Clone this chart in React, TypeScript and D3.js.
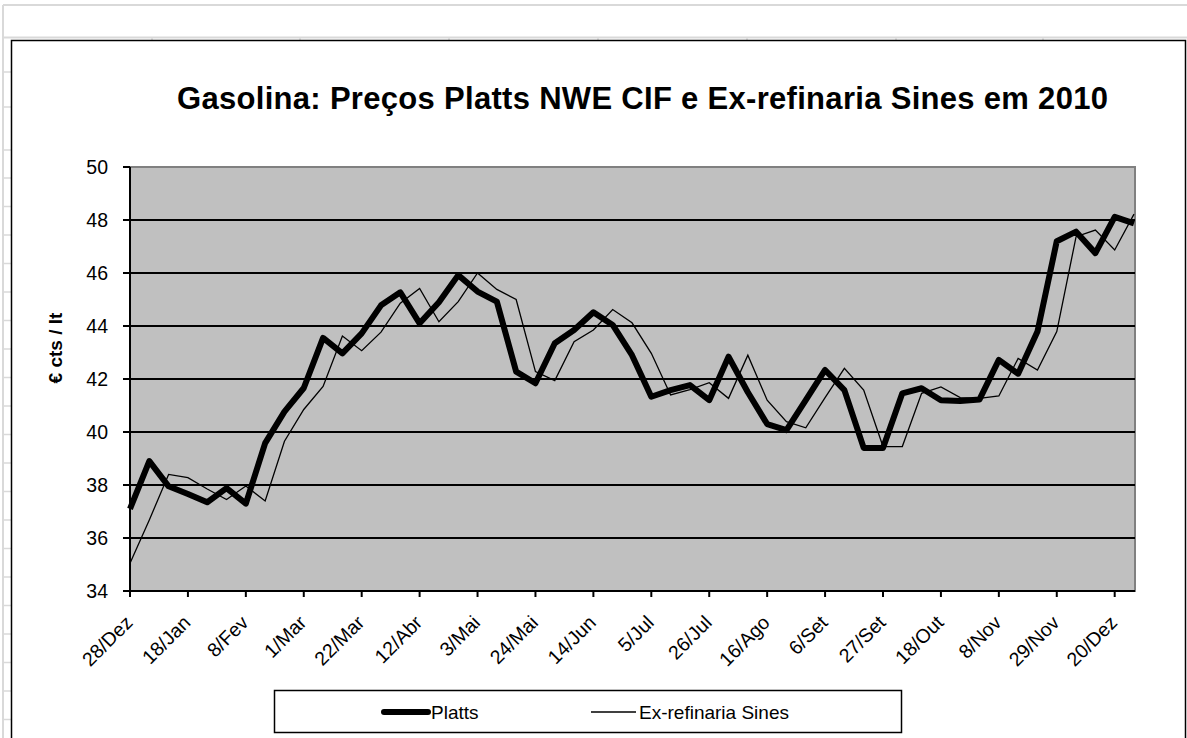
import React from "react";
import * as d3 from "d3";

const categories = [
  "28/Dez", "4/Jan", "11/Jan", "18/Jan", "25/Jan", "1/Fev", "8/Fev", "15/Fev", "22/Fev",
  "1/Mar", "8/Mar", "15/Mar", "22/Mar", "29/Mar", "5/Abr", "12/Abr", "19/Abr", "26/Abr",
  "3/Mai", "10/Mai", "17/Mai", "24/Mai", "31/Mai", "7/Jun", "14/Jun", "21/Jun", "28/Jun",
  "5/Jul", "12/Jul", "19/Jul", "26/Jul", "2/Ago", "9/Ago", "16/Ago", "23/Ago", "30/Ago",
  "6/Set", "13/Set", "20/Set", "27/Set", "4/Out", "11/Out", "18/Out", "25/Out", "1/Nov",
  "8/Nov", "15/Nov", "22/Nov", "29/Nov", "6/Dez", "13/Dez", "20/Dez", "27/Dez",
];

const platts = [
  37.1, 38.9, 37.95, 37.66, 37.35, 37.88, 37.3, 39.58, 40.77, 41.66, 43.55, 42.97, 43.72,
  44.78, 45.27, 44.1, 44.9, 45.92, 45.3, 44.92, 42.28, 41.84, 43.35, 43.85, 44.52, 44.04,
  42.9, 41.33, 41.58, 41.77, 41.2, 42.84, 41.5, 40.3, 40.07, 41.2, 42.34, 41.58, 39.4,
  39.4, 41.46, 41.65, 41.2, 41.17, 41.23, 42.72, 42.2, 43.79, 47.2, 47.56, 46.75, 48.12,
  47.87,
];

const exRefinaria = [
  35.05, 36.68, 38.4, 38.28, 37.85, 37.45, 37.96, 37.4, 39.65, 40.85, 41.72, 43.62, 43.07,
  43.77, 44.86, 45.42, 44.16, 44.92, 46.0, 45.38, 45.0, 42.28, 41.94, 43.41, 43.85, 44.62,
  44.12, 42.97, 41.4, 41.6, 41.86, 41.27, 42.9, 41.2, 40.39, 40.16, 41.3, 42.4, 41.58,
  39.45, 39.45, 41.46, 41.7, 41.3, 41.27, 41.36, 42.78, 42.34, 43.79, 47.37, 47.62, 46.87,
  48.22,
];

const yTicks = [34, 36, 38, 40, 42, 44, 46, 48, 50];
const labelStep = 3;

const title = "Gasolina: Preços Platts NWE CIF e Ex-refinaria Sines em 2010";
const yTitle = "€ cts / lt";
const seriesNames = ["Platts", "Ex-refinaria Sines"];

const W = 1187;
const H = 738;
const FONT = "'Liberation Sans', Arial, sans-serif";

const plot = { left: 130, right: 1135, top: 167, bottom: 591 };

export default function App() {
  const x = d3
    .scalePoint<string>()
    .domain(categories)
    .range([plot.left, plot.right - 1])
    .padding(0);
  const y = d3.scaleLinear().domain([34, 50]).range([plot.bottom, plot.top]);

  const line = d3
    .line<number>()
    .x((_, i) => x(categories[i]) as number)
    .y((d) => y(d));

  const tickCats = categories.filter((_, i) => i % labelStep === 0);

  const rowLines = [72, 107, 150];
  for (let v = 178; v < H; v += 28.5) rowLines.push(v);
  const colLines = [152, 300, 449, 598, 747, 896, 1043];

  return (
    <svg
      width={W}
      height={H}
      style={{ position: "absolute", left: 0, top: 0, background: "#fff" }}
      fontFamily={FONT}
    >
      {/* spreadsheet background */}
      <line x1={3} x2={W} y1={5} y2={5} stroke="#d9d9d9" strokeWidth={2} />
      <line x1={3} x2={3} y1={5} y2={H} stroke="#d9d9d9" strokeWidth={2} />
      <line x1={3} x2={W} y1={37.5} y2={37.5} stroke="#d9d9d9" strokeWidth={2} />
      {rowLines.map((v, i) => (
        <line key={"r" + i} x1={3} x2={11} y1={v} y2={v} stroke="#d9d9d9" strokeWidth={1.5} />
      ))}
      {colLines.map((v, i) => (
        <line key={"c" + i} x1={v} x2={v} y1={37.5} y2={41} stroke="#d9d9d9" strokeWidth={1.5} />
      ))}

      {/* chart border */}
      <rect x={11.5} y={40.5} width={1174} height={H} fill="#fff" stroke="#000" strokeWidth={1.5} />

      {/* title */}
      <text
        x={642.5}
        y={109}
        textAnchor="middle"
        fontSize={31}
        fontWeight="bold"
        textLength={931}
        lengthAdjust="spacing"
      >
        {title}
      </text>

      {/* plot area */}
      <rect
        x={plot.left}
        y={plot.top}
        width={plot.right - plot.left}
        height={plot.bottom - plot.top}
        fill="#c0c0c0"
        stroke="#808080"
        strokeWidth={2}
      />
      {yTicks
        .filter((t) => t !== 34 && t !== 50)
        .map((t) => (
          <line
            key={"g" + t}
            x1={plot.left}
            x2={plot.right}
            y1={y(t)}
            y2={y(t)}
            stroke="#000"
            strokeWidth={2}
          />
        ))}

      {/* y axis */}
      <line x1={plot.left} x2={plot.left} y1={plot.top} y2={plot.bottom} stroke="#000" strokeWidth={2} />
      {yTicks.map((t) => (
        <g key={"yt" + t}>
          <line x1={plot.left - 7} x2={plot.left} y1={y(t)} y2={y(t)} stroke="#000" strokeWidth={2} />
          <text x={108} y={y(t)} dy="0.35em" textAnchor="end" fontSize={19.5}>
            {t}
          </text>
        </g>
      ))}
      <text
        transform={`translate(62,348) rotate(-90)`}
        textAnchor="middle"
        fontSize={19}
        fontWeight="bold"
      >
        {yTitle}
      </text>

      {/* x axis */}
      <line x1={plot.left} x2={plot.right} y1={plot.bottom} y2={plot.bottom} stroke="#000" strokeWidth={2} />
      {tickCats.map((c) => {
        const px = x(c) as number;
        return (
          <g key={"xt" + c}>
            <line x1={px} x2={px} y1={plot.bottom} y2={plot.bottom + 6} stroke="#000" strokeWidth={2} />
            <text
              transform={`translate(${px - 1},${plot.bottom + 28}) rotate(-45)`}
              textAnchor="end"
              dy="0.35em"
              fontSize={19.5}
            >
              {c}
            </text>
          </g>
        );
      })}

      {/* series */}
      <path
        d={line(exRefinaria) || ""}
        fill="none"
        stroke="#000"
        strokeWidth={1.3}
        strokeLinejoin="miter"
      />
      <path
        d={line(platts) || ""}
        fill="none"
        stroke="#000"
        strokeWidth={6}
        strokeLinejoin="round"
      />

      {/* legend */}
      <rect x={274.5} y={690.5} width={627} height={42} fill="#fff" stroke="#000" strokeWidth={1.5} />
      <line x1={384} x2={428} y1={712} y2={712} stroke="#000" strokeWidth={6} strokeLinecap="round" />
      <text x={431} y={712} dy="0.35em" fontSize={19}>
        {seriesNames[0]}
      </text>
      <line x1={591} x2={636} y1={712} y2={712} stroke="#000" strokeWidth={1.3} />
      <text x={639} y={712} dy="0.35em" fontSize={19}>
        {seriesNames[1]}
      </text>
    </svg>
  );
}
